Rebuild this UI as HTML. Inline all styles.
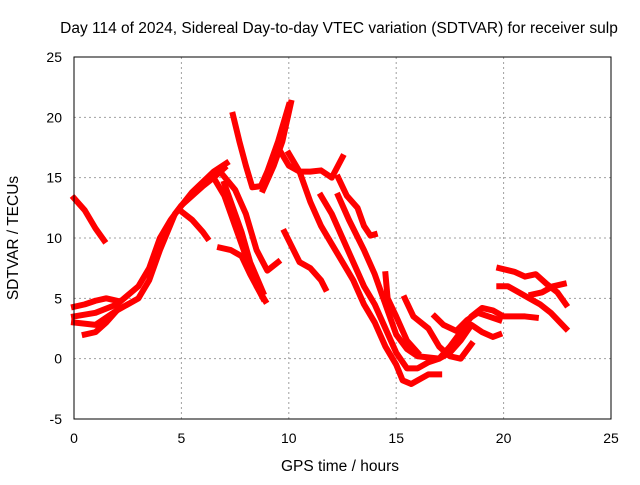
<!DOCTYPE html>
<html><head><meta charset="utf-8"><style>
body{margin:0;background:#fff}
svg text{font-family:"Liberation Sans",sans-serif;font-size:14px;fill:#000}
</style></head><body>
<svg id="chart" width="640" height="480">
<rect width="640" height="480" fill="#fff"/>
<text x="339" y="33" text-anchor="middle" style="font-size:15.5px">Day 114 of 2024, Sidereal Day-to-day VTEC variation (SDTVAR) for receiver sulp</text>
<g id="grid"></g>
<g id="ticks"></g>
<g id="series"></g>
<rect x="74" y="57" width="537" height="362" fill="none" stroke="#000"/>
<text x="340" y="471" text-anchor="middle" style="font-size:15.5px">GPS time / hours</text>
<text transform="translate(18,238) rotate(-90)" text-anchor="middle" style="font-size:15.5px">SDTVAR / TECUs</text>
</svg>
<script>
const xTicks=[0,5,10,15,20,25];
const yTicks=[-5,0,5,10,15,20,25];
const tracks=[
[[0,13.3],[0.5,12.3],[1,10.8],[1.4,9.8]],
[[0,3.5],[1,3.8],[2,4.5],[3,6],[3.5,7.5],[4,10],[4.5,11.5],[5,12.7],[5.5,13.5],[6,14.3],[6.5,15],[7,15.8]],
[[0,3],[1,2.8],[2,4],[3,5],[3.5,6.5],[4,9],[4.7,12],[5.5,13.8],[6.5,15.5],[7.1,16.2]],
[[0,4.3],[0.5,4.5],[1,4.8],[1.5,5],[2,4.8]],
[[0.5,2],[1,2.2],[1.5,3],[2,4]],
[[5,12.2],[5.5,11.5],[6,10.5],[6.2,10]],
[[6.5,15],[7,13.5],[7.5,11],[8,8.5],[8.5,6],[8.9,4.8]],
[[7,14.5],[7.5,12],[7.8,10.5],[8.2,8],[8.8,5.5]],
[[6.8,9.2],[7.3,9],[7.8,8.5],[8.2,7],[8.8,5]],
[[6.8,15.5],[7.5,14],[8,12],[8.5,9],[9,7.3],[9.5,8]],
[[7.4,20.2],[7.7,18],[8,16],[8.3,14.2],[8.7,14.3],[9,15.5],[9.5,18],[10,21]],
[[8.8,14],[9.3,16],[9.7,18],[10.1,21.2]],
[[9.5,17.5],[10,16],[10.5,15.5],[11,15.5],[11.5,15.6],[12,15],[12.5,16.7]],
[[10,17],[10.5,15.5],[11,13],[11.5,11],[12,9.5],[12.5,8],[13,6.5],[13.5,4.5],[14,3],[14.5,1],[15,-0.5],[15.3,-1.8],[15.7,-2.1],[16,-1.8],[16.5,-1.3],[17,-1.3]],
[[9.8,10.5],[10.5,8],[11,7.5],[11.5,6.5],[11.7,5.8]],
[[11.5,13.5],[12,12],[12.5,10],[13,8],[13.5,6],[14,4.5],[14.5,2.5],[15,0.5],[15.5,-0.8],[16,-0.8],[16.5,-0.3],[17,0],[17.5,1],[18,2.2],[18.5,3.5],[19,4.2],[19.5,4],[20,3.5],[21,3.5],[21.5,3.4]],
[[12.3,13.5],[12.8,11.5],[13.5,9],[14,7],[14.5,4.5],[15,2],[15.5,0.8],[16,0.2],[17,0],[17.5,0.5],[18,1.5],[18.5,2.8],[19,2.2],[19.5,1.8],[19.8,2]],
[[12.3,15],[12.7,13.5],[13.2,12.5],[13.5,11],[13.8,10.2],[14,10.3]],
[[14.5,7],[14.6,5],[15,3.5],[15.5,1.5],[16,0.5]],
[[15.4,5],[15.8,3.5],[16.5,2.5],[17,1],[17.5,0.2],[18,0],[18.5,1.2]],
[[16.8,3.5],[17.2,2.8],[17.8,2.3],[18.3,3.2],[18.8,3.8],[19.3,3.5],[19.8,3.2]],
[[19.8,7.5],[20.5,7.2],[21,6.8],[21.5,7],[22,6.2],[22.5,5.5],[22.9,4.5]],
[[19.8,6],[20.2,6],[20.7,5.5],[21.2,5],[21.7,4.5],[22.2,3.8],[22.9,2.5]],
[[21.3,5.3],[21.8,5.5],[22.3,6],[22.8,6.2]]
];
const NS='http://www.w3.org/2000/svg';
const X0=74,X1=611,Y0=419,Y1=57;
function xs(v){return X0+(v-0)/25*(X1-X0);}
function ys(v){return Y0-(v+5)/30*(Y0-Y1);}
const grid=document.getElementById('grid'),tk=document.getElementById('ticks'),ser=document.getElementById('series');
function mk(t,a){const e=document.createElementNS(NS,t);for(const k in a)e.setAttribute(k,a[k]);return e;}
xTicks.forEach(v=>{
 const x=xs(v);
 if(v>0&&v<25){const l=mk('line',{x1:x,x2:x,y1:Y1,y2:Y0,stroke:'#a0a0a0','stroke-dasharray':'2,3'});
 
 grid.appendChild(l);}
 const t=mk('text',{x:x,y:443,'text-anchor':'middle'});t.textContent=v;
 
 tk.appendChild(t);
});
yTicks.forEach(v=>{
 const y=ys(v);
 if(v>-5&&v<25){const l=mk('line',{x1:X0,x2:X1,y1:y,y2:y,stroke:'#a0a0a0','stroke-dasharray':'2,3'});
 
 grid.appendChild(l);}
 const t=mk('text',{x:62,y:y+5,'text-anchor':'end'});t.textContent=v;
 
 tk.appendChild(t);
});
tracks.forEach(tr=>{
 const p=mk('polyline',{points:tr.map(d=>xs(d[0])+','+ys(d[1])).join(' '),fill:'none',stroke:'#f00','stroke-width':6,'stroke-linejoin':'round','stroke-linecap':'square'});
 
 
 ser.appendChild(p);
});
</script>
</body></html>
